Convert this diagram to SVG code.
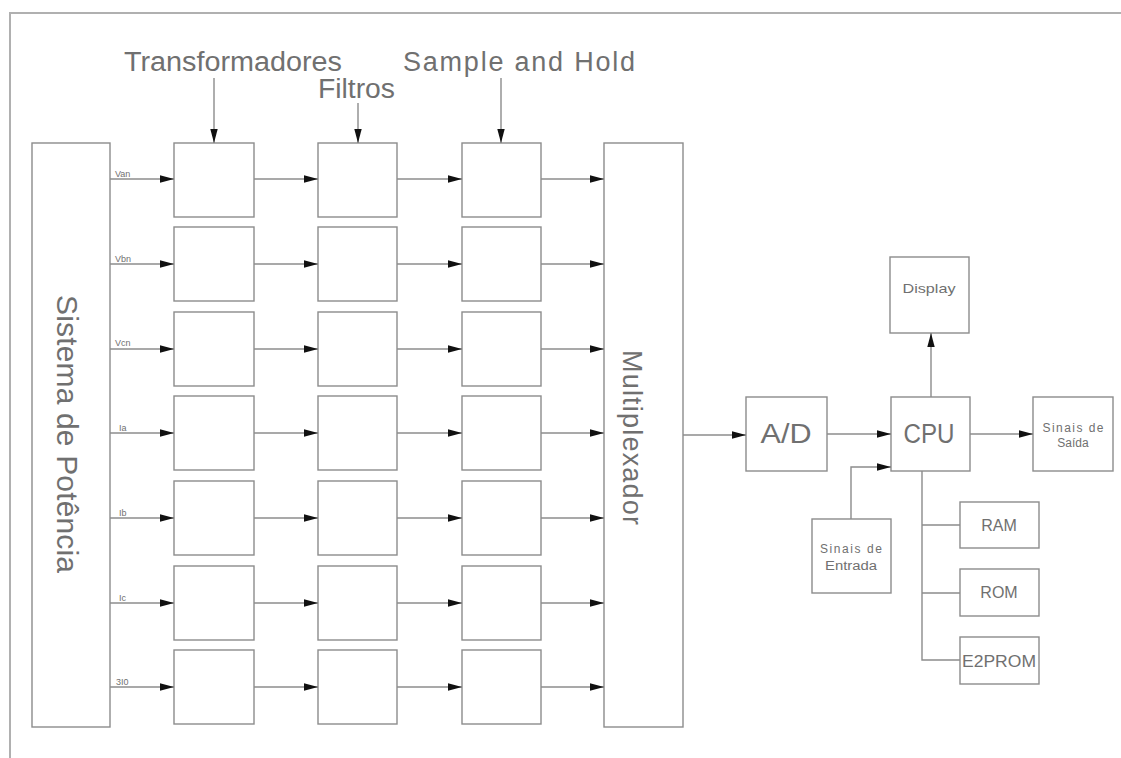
<svg xmlns="http://www.w3.org/2000/svg" width="1121" height="758" viewBox="0 0 1121 758">
<style>
.b{fill:#fff;stroke:#8c8c8c;stroke-width:1.4}
.c{fill:none;stroke:#8c8c8c;stroke-width:1.4}
.a{marker-end:url(#ah)}
.t{font-family:"Liberation Sans",Arial,sans-serif;fill:#707070}
.big{font-size:27px}
.s{font-size:9px}
.m{font-size:12px;text-anchor:middle}
.r{font-size:16px;text-anchor:middle}
.bc{font-size:27px;text-anchor:middle}
</style>
<defs>
<marker id="ah" markerUnits="userSpaceOnUse" markerWidth="14" markerHeight="10" refX="14" refY="5" orient="auto"><path d="M0,1.3 L14,5 L0,8.7 z" fill="#111"/></marker>
</defs>
<rect width="1121" height="758" fill="#fff"/>
<g id="frame"><path d="M10,758 V13 H1121" fill="none" stroke="#b0b0b0" stroke-width="2"/></g>

<g id="titles" class="t big">
<text x="124" y="71" textLength="218" lengthAdjust="spacingAndGlyphs">Transformadores</text>
<text x="318" y="98" textLength="77" lengthAdjust="spacingAndGlyphs">Filtros</text>
<text x="403" y="71" textLength="232" lengthAdjust="spacing">Sample  and  Hold</text>
</g>

<g id="sistema"><rect class="b" x="32" y="143" width="78" height="584"/>
<text class="t" font-size="30" transform="translate(57,295) rotate(90)" textLength="278" lengthAdjust="spacing">Sistema  de  Potência</text></g>

<g id="mux"><rect class="b" x="604" y="143" width="79" height="584"/>
<text class="t" font-size="27" transform="translate(623,350) rotate(90)" textLength="175" lengthAdjust="spacing">Multiplexador</text></g>

<g id="col1">
<rect class="b" x="174" y="143" width="80" height="74"/>
<rect class="b" x="174" y="227" width="80" height="74"/>
<rect class="b" x="174" y="312" width="80" height="74"/>
<rect class="b" x="174" y="396" width="80" height="74"/>
<rect class="b" x="174" y="481" width="80" height="74"/>
<rect class="b" x="174" y="566" width="80" height="74"/>
<rect class="b" x="174" y="650" width="80" height="74"/>
</g>
<g id="col2">
<rect class="b" x="318" y="143" width="79" height="74"/>
<rect class="b" x="318" y="227" width="79" height="74"/>
<rect class="b" x="318" y="312" width="79" height="74"/>
<rect class="b" x="318" y="396" width="79" height="74"/>
<rect class="b" x="318" y="481" width="79" height="74"/>
<rect class="b" x="318" y="566" width="79" height="74"/>
<rect class="b" x="318" y="650" width="79" height="74"/>
</g>
<g id="col3">
<rect class="b" x="462" y="143" width="79" height="74"/>
<rect class="b" x="462" y="227" width="79" height="74"/>
<rect class="b" x="462" y="312" width="79" height="74"/>
<rect class="b" x="462" y="396" width="79" height="74"/>
<rect class="b" x="462" y="481" width="79" height="74"/>
<rect class="b" x="462" y="566" width="79" height="74"/>
<rect class="b" x="462" y="650" width="79" height="74"/>
</g>

<g id="ad"><rect class="b" x="746" y="397" width="81" height="74"/><text class="t bc" x="786" y="443" textLength="51" lengthAdjust="spacingAndGlyphs">A/D</text></g>
<g id="cpu"><rect class="b" x="891" y="397" width="79" height="74"/><text class="t bc" x="929" y="443" textLength="51" lengthAdjust="spacingAndGlyphs">CPU</text></g>
<g id="display"><rect class="b" x="890" y="257" width="79" height="76"/><text class="t" x="929" y="293" font-size="13" text-anchor="middle" textLength="53" lengthAdjust="spacingAndGlyphs">Display</text></g>
<g id="saida"><rect class="b" x="1033" y="397" width="80" height="74"/><text class="t m" x="1073" y="432" textLength="61" lengthAdjust="spacing">Sinais  de</text><text class="t m" x="1073" y="447">Saída</text></g>
<g id="entrada"><rect class="b" x="812" y="519" width="79" height="74"/><text class="t m" x="851" y="553" textLength="62" lengthAdjust="spacing">Sinais  de</text><text class="t m" x="851" y="570" textLength="52" lengthAdjust="spacingAndGlyphs">Entrada</text></g>
<g id="ram"><rect class="b" x="960" y="502" width="79" height="46"/><text class="t r" x="999" y="531">RAM</text></g>
<g id="rom"><rect class="b" x="960" y="569" width="79" height="47"/><text class="t r" x="999" y="598">ROM</text></g>
<g id="e2prom"><rect class="b" x="960" y="637" width="79" height="47"/><text class="t r" x="999" y="667" textLength="74" lengthAdjust="spacingAndGlyphs">E2PROM</text></g>

<g id="labels" class="t s">
<text x="115" y="177">Van</text>
<text x="115" y="262">Vbn</text>
<text x="115" y="346">Vcn</text>
<text x="119" y="431">Ia</text>
<text x="119" y="516">Ib</text>
<text x="119" y="601">Ic</text>
<text x="116" y="685">3I0</text>
</g>

<g id="connectors" class="c">
<path class="a" d="M214,78 V143"/>
<path class="a" d="M358,103 V143"/>
<path class="a" d="M501,78 V143"/>

<path class="a" d="M110,179 H174"/><path class="a" d="M254,179 H318"/><path class="a" d="M397,179 H462"/><path class="a" d="M541,179 H604"/>
<path class="a" d="M110,264 H174"/><path class="a" d="M254,264 H318"/><path class="a" d="M397,264 H462"/><path class="a" d="M541,264 H604"/>
<path class="a" d="M110,349 H174"/><path class="a" d="M254,349 H318"/><path class="a" d="M397,349 H462"/><path class="a" d="M541,349 H604"/>
<path class="a" d="M110,433 H174"/><path class="a" d="M254,433 H318"/><path class="a" d="M397,433 H462"/><path class="a" d="M541,433 H604"/>
<path class="a" d="M110,518 H174"/><path class="a" d="M254,518 H318"/><path class="a" d="M397,518 H462"/><path class="a" d="M541,518 H604"/>
<path class="a" d="M110,603 H174"/><path class="a" d="M254,603 H318"/><path class="a" d="M397,603 H462"/><path class="a" d="M541,603 H604"/>
<path class="a" d="M110,687 H174"/><path class="a" d="M254,687 H318"/><path class="a" d="M397,687 H462"/><path class="a" d="M541,687 H604"/>

<path class="a" d="M683,435 H746"/>
<path class="a" d="M827,434 H891"/>
<path class="a" d="M851,519 V467 H891"/>
<path class="a" d="M970,434 H1033"/>
<path class="a" d="M931,397 V333"/>
<path d="M922,471 V660 H960 M922,525 H960 M922,593 H960"/>
</g>
</svg>
